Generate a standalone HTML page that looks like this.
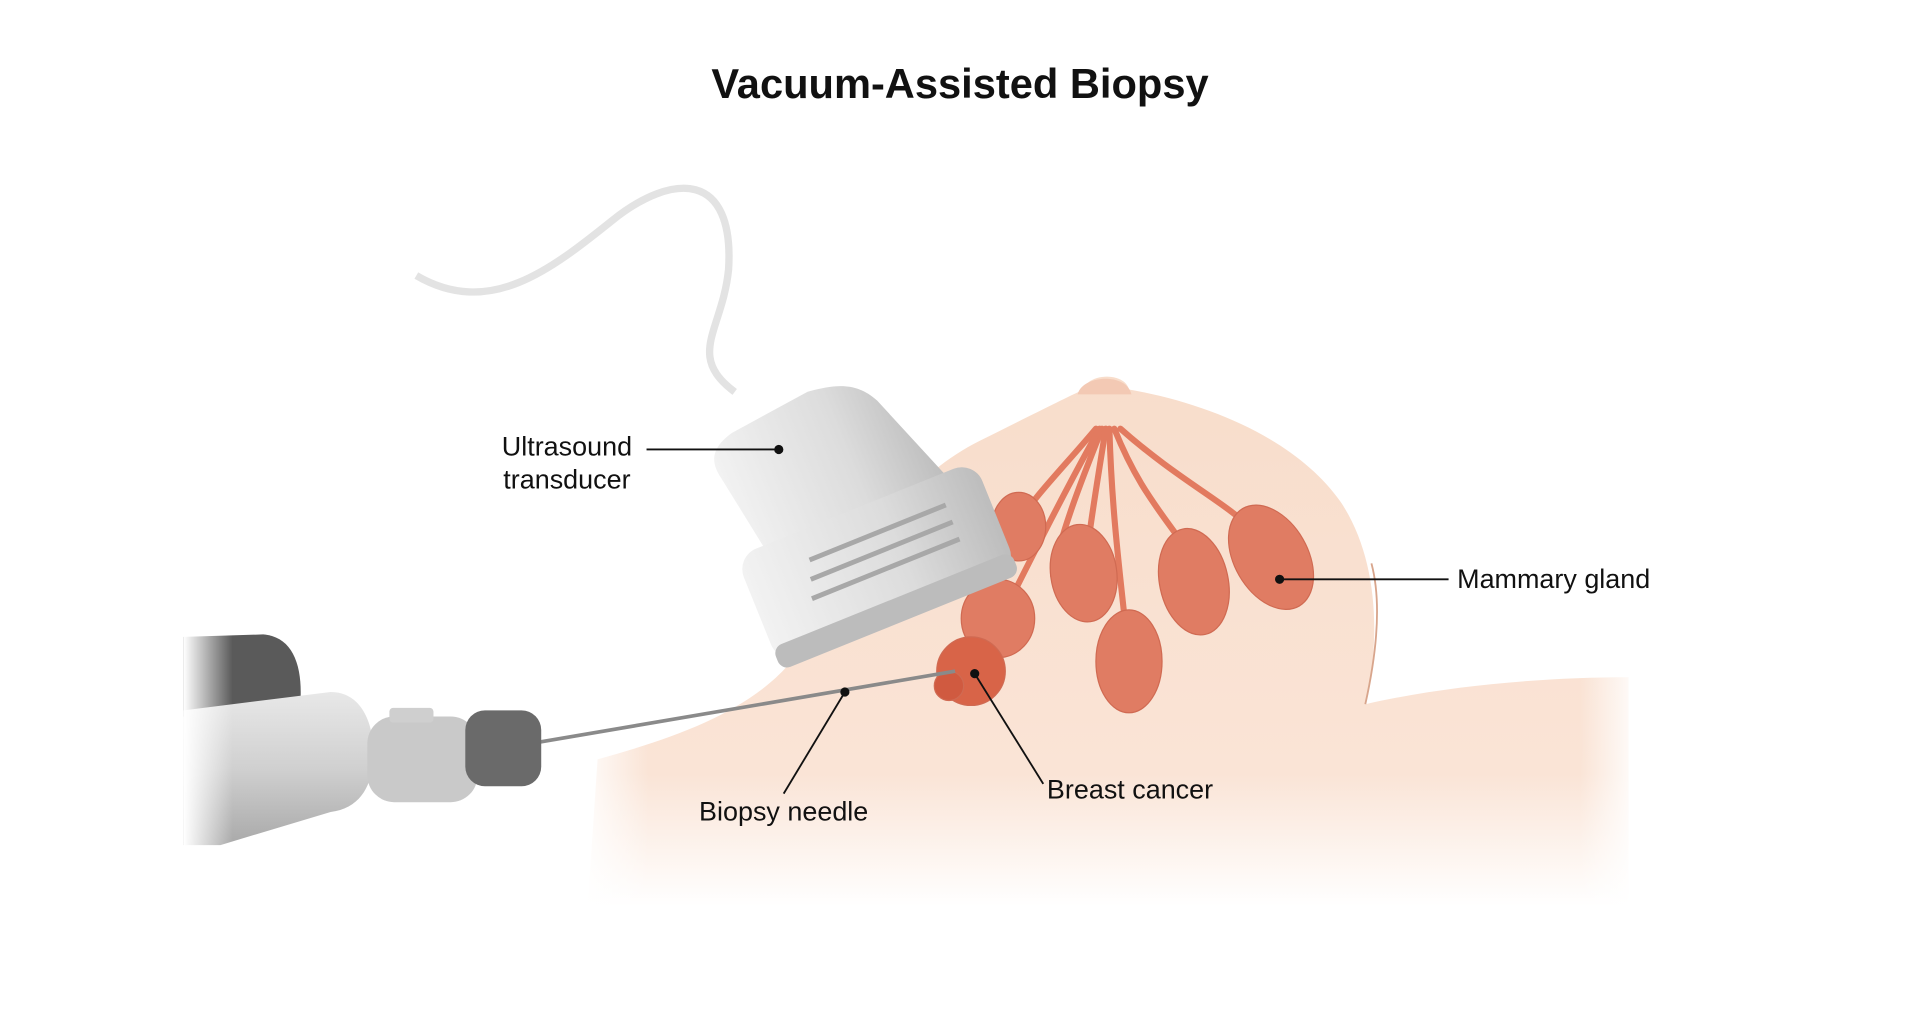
<!DOCTYPE html>
<html><head><meta charset="utf-8"><style>
html,body{margin:0;padding:0;background:#fff;width:1920px;height:1030px;overflow:hidden}
svg{display:block}
text{font-family:"Liberation Sans",sans-serif;fill:#111}
</style></head><body>
<svg width="1920" height="1030" viewBox="0 0 1568 841" preserveAspectRatio="none">
<defs>
<linearGradient id="skin" x1="0" y1="0" x2="0" y2="1">
<stop offset="0" stop-color="#f8ddcb"/><stop offset="0.75" stop-color="#fae4d6"/><stop offset="1" stop-color="#fff"/>
</linearGradient>
<linearGradient id="fadeL" x1="0" y1="0" x2="1" y2="0">
<stop offset="0" stop-color="#fff" stop-opacity="1"/><stop offset="1" stop-color="#fff" stop-opacity="0"/>
</linearGradient>
<linearGradient id="fadeR" x1="0" y1="0" x2="1" y2="0">
<stop offset="0" stop-color="#fff" stop-opacity="0"/><stop offset="1" stop-color="#fff" stop-opacity="1"/>
</linearGradient>
<linearGradient id="grey" x1="0" y1="0" x2="1" y2="0">
<stop offset="0" stop-color="#f2f2f2"/><stop offset="0.6" stop-color="#dcdcdc"/><stop offset="1" stop-color="#bdbdbd"/>
</linearGradient>
<linearGradient id="dev" x1="0" y1="0" x2="0" y2="1">
<stop offset="0" stop-color="#e8e8e8"/><stop offset="0.5" stop-color="#d0d0d0"/><stop offset="1" stop-color="#a9a9a9"/>
</linearGradient>
</defs>
<text x="784" y="80" font-size="34" font-weight="bold" text-anchor="middle">Vacuum-Assisted Biopsy</text>

<path d="M480,740 L488,620 C560,600 630,575 660,520 C700,450 740,390 800,360 C840,340 870,325 885,318 C888,305 918,303 922,318 C990,330 1060,360 1095,410 C1125,455 1128,520 1115,575 C1180,560 1260,553 1330,553 L1330,740 Z" fill="url(#skin)"/>
<path d="M880,322 C884,306 920,304 924,322 Z" fill="#f3c9b4"/>
<rect x="470" y="560" width="60" height="190" fill="url(#fadeL)"/>
<rect x="1290" y="540" width="50" height="210" fill="url(#fadeR)"/>
<path d="M1115,575 C1125,530 1128,490 1120,460" fill="none" stroke="#d8a58c" stroke-width="1.5"/>

<g stroke="#e27a5f" stroke-width="5" fill="none" stroke-linecap="round">
<path d="M895,350 C870,380 840,410 830,430"/>
<path d="M900,350 C880,400 865,440 860,470"/>
<path d="M903,350 C895,400 890,430 888,450"/>
<path d="M906,350 C908,420 915,470 920,520"/>
<path d="M910,350 C930,400 950,420 970,450"/>
<path d="M915,350 C960,390 1000,410 1020,430"/>
<path d="M898,350 C870,400 840,460 820,500"/>
</g>
<g fill="#e07c63" stroke="#d06a52" stroke-width="1">
<ellipse cx="832" cy="430" rx="22" ry="28"/>
<ellipse cx="885" cy="468" rx="27" ry="40" transform="rotate(-8 885 468)"/>
<ellipse cx="922" cy="540" rx="27" ry="42"/>
<ellipse cx="975" cy="475" rx="28" ry="44" transform="rotate(-12 975 475)"/>
<ellipse cx="1038" cy="455" rx="30" ry="46" transform="rotate(-30 1038 455)"/>
<ellipse cx="815" cy="505" rx="30" ry="32"/>
<circle cx="793" cy="548" r="28" fill="#d86448"/>
<circle cx="775" cy="560" r="12" fill="#d05a40"/>
</g>

<path d="M340,225 C400,260 450,220 500,180 C550,140 600,140 595,220 C590,270 560,290 600,320" fill="none" stroke="#e3e3e3" stroke-width="6"/>
<g transform="translate(-20,-10) rotate(-22 720 430)">
<path d="M650,330 C630,335 625,345 628,360 L640,430 L800,430 L770,350 C760,330 745,325 720,322 Z" fill="url(#grey)"/>
<rect x="615" y="425" width="210" height="95" rx="18" fill="url(#grey)"/>
<rect x="615" y="505" width="210" height="20" rx="8" fill="#bcbcbc"/>
<path d="M660,480 L790,480 M665,465 L790,465 M670,450 L790,450" stroke="#a8a8a8" stroke-width="4"/>
</g>

<line x1="440" y1="606" x2="780" y2="548" stroke="#8a8a8a" stroke-width="3"/>
<path d="M150,520 L215,518 C240,520 248,545 245,578 L150,585 Z" fill="#5a5a5a"/>
<path d="M150,580 L270,565 C295,565 305,590 305,615 C305,640 295,660 270,663 L180,690 L150,690 Z" fill="url(#dev)"/>
<rect x="300" y="585" width="90" height="70" rx="22" fill="#c9c9c9"/>
<rect x="318" y="578" width="36" height="12" rx="3" fill="#cfcfcf"/>
<rect x="380" y="580" width="62" height="62" rx="16" fill="#6a6a6a"/>
<rect x="150" y="510" width="40" height="190" fill="url(#fadeL)"/>

<g stroke="#111" stroke-width="1.5" fill="#111">
<line x1="528" y1="367" x2="636" y2="367"/><circle cx="636" cy="367" r="3"/>
<line x1="1045" y1="473" x2="1183" y2="473"/><circle cx="1045" cy="473" r="3"/>
<line x1="690" y1="565" x2="640" y2="648"/><circle cx="690" cy="565" r="3"/>
<line x1="796" y1="550" x2="852" y2="640"/><circle cx="796" cy="550" r="3"/>
</g>
<g font-size="22">
<text x="463" y="372" text-anchor="middle">Ultrasound</text>
<text x="463" y="399" text-anchor="middle">transducer</text>
<text x="1190" y="480">Mammary gland</text>
<text x="640" y="670" text-anchor="middle">Biopsy needle</text>
<text x="855" y="652">Breast cancer</text>
</g>
</svg>
</body></html>
